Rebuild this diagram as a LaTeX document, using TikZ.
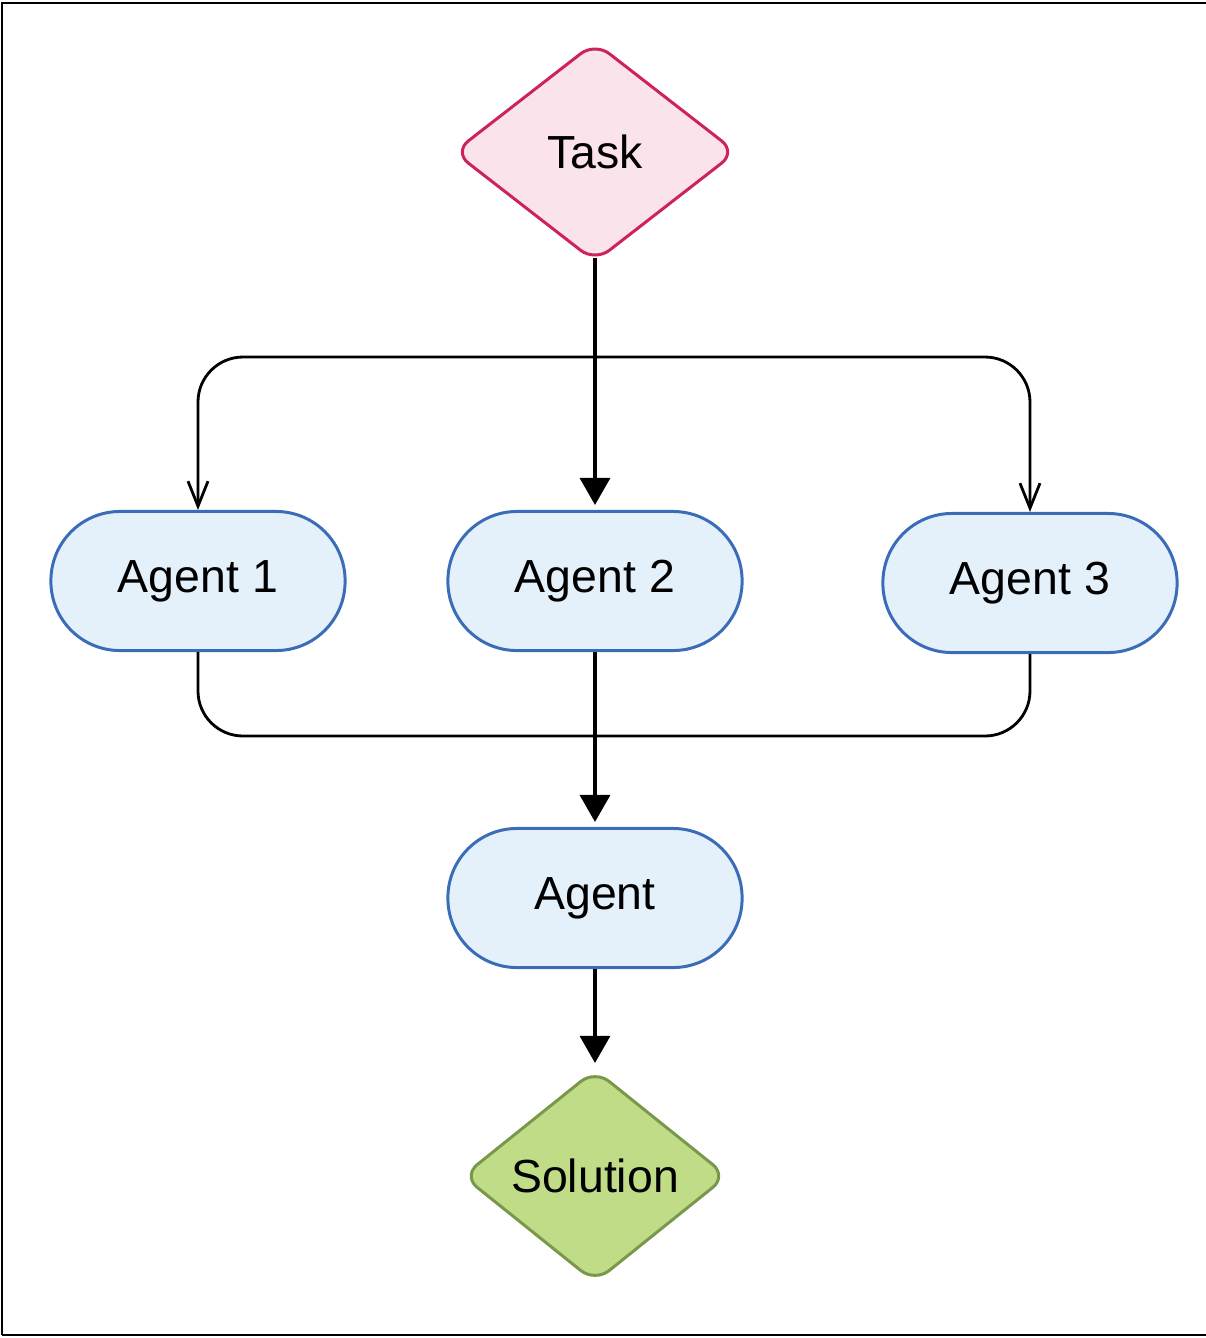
\documentclass[tikz,border=0pt]{standalone}
\usepackage{fontspec}
\setmainfont{Liberation Sans}
\usetikzlibrary{arrows.meta,shapes.geometric}

\definecolor{taskfill}{RGB}{251,227,235}
\definecolor{taskline}{RGB}{204,34,94}
\definecolor{agentfill}{RGB}{228,241,251}
\definecolor{agentline}{RGB}{58,108,184}
\definecolor{solfill}{RGB}{192,220,134}
\definecolor{solline}{RGB}{122,152,76}

\begin{document}
\begin{tikzpicture}[x=0.01cm, y=-0.01cm,
		agent/.style={draw=agentline, fill=agentfill, line width=0.85pt, rounded corners=0.69cm,
			minimum width=2.94cm, minimum height=1.39cm, inner sep=0pt, font=\fontsize{13.2}{15}\selectfont},
		decision/.style={diamond, aspect=1.2, line width=0.85pt, rounded corners=0.18cm,
			inner sep=0pt, font=\fontsize{13.2}{15}\selectfont},
		flow/.style={line width=0.9pt, shorten >=0.05cm, -{Triangle[length=0.27cm, width=0.3cm]}},
		branch/.style={line width=0.8pt, rounded corners=0.45cm, -{Straight Barb[length=0.25cm, width=0.2cm]}},
		gather/.style={line width=0.8pt, rounded corners=0.45cm}]
		%%%%% START %%%%%
		
		\useasboundingbox (0, 0) rectangle (1206, 1338);
		\draw[line width=0.55pt] (2, 1335) -- (2, 3) -- (1210, 3);
		\draw[line width=0.55pt] (2, 1335) -- (1210, 1335);
		
		\node[decision, draw=taskline, fill=taskfill, minimum width=2.83cm, minimum height=2.2cm] (task) at (595, 152) {Task};
		
		\node[agent] (agent1) at (198, 581) {Agent 1};
		\node[agent] (agent2) at (595, 581) {Agent 2};
		\node[agent] (agent3) at (1030, 583) {Agent 3};
		
		\node[agent] (agent) at (595, 898) {Agent};
		
		\node[decision, draw=solline, fill=solfill, minimum width=2.65cm, minimum height=2.13cm] (solution) at (595, 1176) {Solution};
		
		\coordinate (split) at (595, 357);
		\coordinate (merge) at (595, 736);
		
		\draw[flow, shorten <=-0.06cm] (task.south) -- (agent2.north);
		\draw[branch] (split) -| (agent1.north);
		\draw[branch] (split) -| (agent3.north);
		
		\draw[gather] (agent1.south) |- (merge);
		\draw[gather] (agent3.south) |- (merge);
		\draw[flow] (agent2.south) -- (agent.north);
		
		\draw[flow] (agent.south) -- (solution.north);
		
		%%%%% END %%%%%
	\end{tikzpicture}
\end{document}
